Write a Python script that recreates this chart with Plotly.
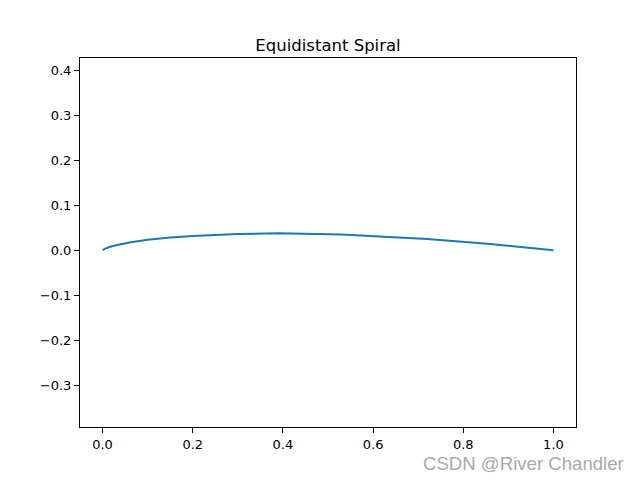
import plotly.graph_objects as go

x_vals = [0.0, 0.005, 0.015, 0.03, 0.06, 0.1, 0.15, 0.2, 0.3, 0.39, 0.53, 0.72, 0.86, 1.0]
y_vals = [0.0, 0.003, 0.007, 0.011, 0.017, 0.023, 0.028, 0.0315, 0.036, 0.0375, 0.0345, 0.0245, 0.0135, 0.0]
x_ticks = [0.0, 0.2, 0.4, 0.6, 0.8, 1.0]
y_ticks = [-0.3, -0.2, -0.1, 0.0, 0.1, 0.2, 0.3, 0.4]
title = "Equidistant Spiral"
watermark = "CSDN @River Chandler"

fig = go.Figure()
fig.add_trace(go.Scatter(x=x_vals, y=y_vals, mode="lines",
                         line=dict(color="#1f77b4", width=2), showlegend=False))

axis_common = dict(showgrid=False, zeroline=False, showline=True, linecolor="black",
                   linewidth=1, mirror=True, ticks="outside", ticklen=5, tickwidth=1,
                   tickcolor="black", tickfont=dict(family="DejaVu Sans", size=13, color="black"))
fig.update_xaxes(range=[-0.05, 1.05], tickvals=x_ticks,
                 ticktext=[f"{v:.1f}" for v in x_ticks], **axis_common)
fig.update_yaxes(range=[-0.393, 0.427], tickvals=y_ticks,
                 ticktext=[f"{v:.1f}".replace("-", "\u2212") for v in y_ticks], **axis_common)

fig.update_layout(
    width=632, height=472,
    margin=dict(l=72, r=64, t=50, b=53),
    paper_bgcolor="white", plot_bgcolor="white",
    title=dict(text=title, x=0.5, xref="paper", y=1, yref="paper", yanchor="bottom",
               pad=dict(b=7), font=dict(family="DejaVu Sans", size=16.5, color="black")),
)
fig.add_annotation(text=watermark, xref="paper", yref="paper", x=1.1, y=-0.10,
                   xanchor="right", yanchor="middle", showarrow=False,
                   font=dict(family="Liberation Sans", size=18.6, color="#aaaaaa"))
fig.write_html("out.html")
